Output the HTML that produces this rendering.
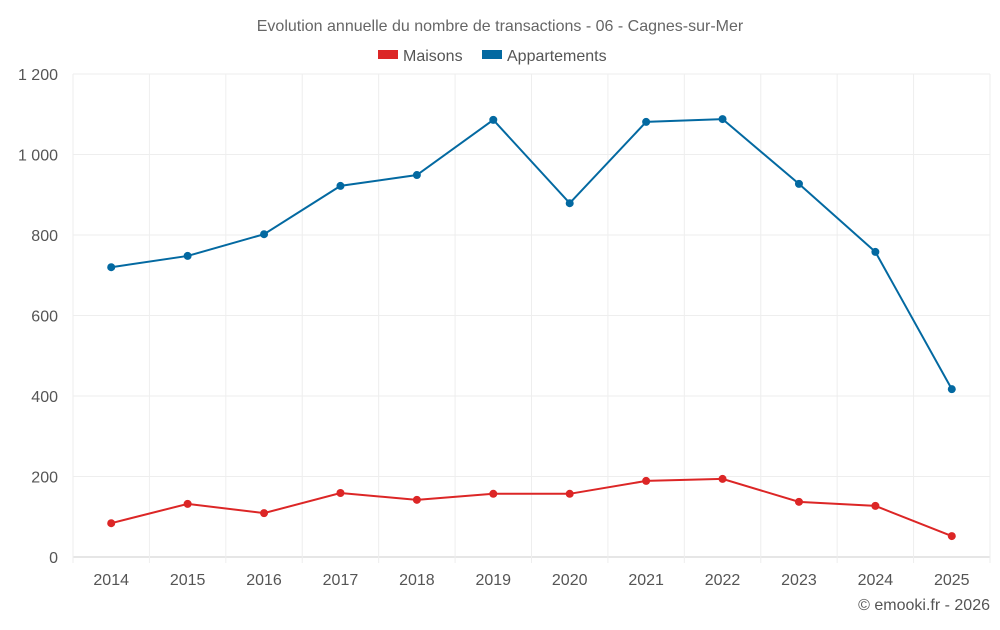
<!DOCTYPE html>
<html><head><meta charset="utf-8"><style>
body{margin:0;background:#fff;font-family:"Liberation Sans",sans-serif;}
svg text{font-family:"Liberation Sans",sans-serif;}
</style></head><body>
<svg id="chart" width="1000" height="625">
<text x="500" y="31" text-anchor="middle" font-size="16" fill="#666">Evolution annuelle du nombre de transactions - 06 - Cagnes-sur-Mer</text>
<g><rect x="378" y="50" width="20" height="9" fill="#dc2626"/><text x="403" y="61" font-size="16" fill="#555">Maisons</text></g>
<g><rect x="482" y="50" width="20" height="9" fill="#0369a1"/><text x="507" y="61" font-size="16" fill="#555">Appartements</text></g>
<g id="grid"></g><g id="series"></g>
<text x="990" y="610" text-anchor="end" font-size="16" fill="#555">© emooki.fr - 2026</text>
</svg>
<script>
const years=[2014,2015,2016,2017,2018,2019,2020,2021,2022,2023,2024,2025];
const maisons=[84,132,109,159,142,157,157,189,194,137,127,52];
const appartements=[720,748,802,922,949,1086,879,1081,1088,927,758,417];
const yTicks=[0,200,400,600,800,1000,1200];
const yLabels=["0","200","400","600","800","1 000","1 200"];
const NS="http://www.w3.org/2000/svg";
const L=73,R=990,T=74,B=557,ymax=1200;
const step=(R-L)/years.length;
const x=i=>L+step*(i+0.5);
const y=v=>B-(v/ymax)*(B-T);
const grid=document.getElementById('grid'),ser=document.getElementById('series');
function mk(t,a,p){const e=document.createElementNS(NS,t);for(const k in a)e.setAttribute(k,a[k]);p.appendChild(e);return e;}
yTicks.forEach((v,i)=>{
 const l=mk('line',{x1:L,x2:R,y1:y(v),y2:y(v),stroke:v===0?'#ccc':'#eee'},grid);
 
 
 const t=mk('text',{x:58,y:y(v)+6,'text-anchor':'end','font-size':16,fill:'#555'},grid);
 t.textContent=yLabels[i];
 
 
});
for(let i=0;i<=years.length;i++){
 const l=mk('line',{x1:L+step*i,x2:L+step*i,y1:T,y2:B+6,stroke:'#eee'},grid);
 
 
}
years.forEach((yr,i)=>{
 const t=mk('text',{x:x(i),y:585,'text-anchor':'middle','font-size':16,fill:'#555'},grid);
 t.textContent=yr;
 
 
});
function draw(data,color,name){
 const p=mk('polyline',{points:data.map((v,i)=>x(i)+','+y(v)).join(' '),fill:'none',stroke:color,'stroke-width':2},ser);
 
 
 data.forEach((v,i)=>{
  const c=mk('circle',{cx:x(i),cy:y(v),r:4,fill:color},ser);
  
  
 });
}
draw(maisons,'#dc2626','maisons');
draw(appartements,'#0369a1','appartements');
</script>
</body></html>
